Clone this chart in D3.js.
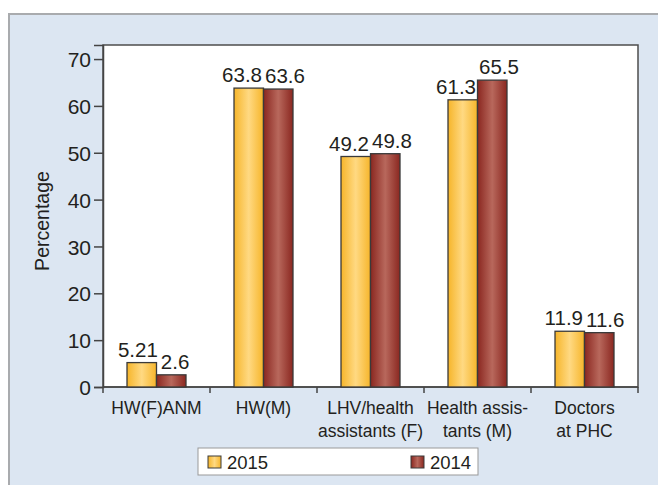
<!DOCTYPE html>
<html>
<head>
<meta charset="utf-8">
<script src="https://cdn.jsdelivr.net/npm/d3@7"></script>
<style>
  body { margin: 0; background: #fff; }
  svg { display: block; font-family: 'Liberation Sans', Arial, sans-serif; }
</style>
</head>
<body>
<svg id="chart" width="658" height="485"></svg>
<script>
const categories = [['HW(F)ANM'], ['HW(M)'], ['LHV/health', 'assistants (F)'], ['Health assis-', 'tants (M)'], ['Doctors', 'at PHC']];
const series = ['2015', '2014'];
const values2015 = [5.21, 63.8, 49.2, 61.3, 11.9];
const values2014 = [2.6, 63.6, 49.8, 65.5, 11.6];
const yTicks = [0, 10, 20, 30, 40, 50, 60, 70];

const svg = d3.select('#chart');
const margin = { top: 45, right: 20, bottom: 98, left: 103 };
const width = 658 - margin.left - margin.right;
const height = 485 - margin.top - margin.bottom;
const ink = '#231f20';

// gradients for the bars
const defs = svg.append('defs');
const grads = [
  { id: 'g2015', edge: '#f6b52a', mid: '#ffd982' },
  { id: 'g2014', edge: '#8a2720', mid: '#b8685c' }
];
grads.forEach(g => {
  const lg = defs.append('linearGradient').attr('id', g.id).attr('x1', 0).attr('x2', 1).attr('y1', 0).attr('y2', 0);
  lg.append('stop').attr('offset', '0%').attr('stop-color', g.edge);
  lg.append('stop').attr('offset', '50%').attr('stop-color', g.mid);
  lg.append('stop').attr('offset', '100%').attr('stop-color', g.edge);
});

// panel background
svg.append('rect').attr('x', 9).attr('y', 14).attr('width', 660).attr('height', 480)
  .attr('fill', '#dce6f2').attr('stroke', '#a9abae').attr('stroke-width', 2);

const chart = svg.append('g').attr('transform', 'translate(' + margin.left + ',' + margin.top + ')');

const x0 = d3.scaleBand().domain(d3.range(categories.length)).range([0, width]);
const x1 = d3.scaleBand().domain(series).range([x0.bandwidth() / 2 - 29.5, x0.bandwidth() / 2 + 29.5]);
const y = d3.scaleLinear().domain([0, 73]).range([height, 0]);

chart.append('rect').attr('width', width).attr('height', height)
  .attr('fill', '#fff').attr('stroke', '#4d4d4d').attr('stroke-width', 1.5);

// y axis
const yAxis = chart.append('g').call(d3.axisLeft(y).tickValues(yTicks).tickSize(9).tickPadding(3));
yAxis.select('.domain').attr('stroke', '#444').attr('stroke-width', 1.5);
yAxis.selectAll('.tick line').attr('stroke', '#444').attr('stroke-width', 1.5);
yAxis.selectAll('.tick text').attr('font-size', 21).attr('fill', ink).attr('dy', '0.36em');

// x axis with ticks at category boundaries
const xAxis = chart.append('g').attr('transform', 'translate(0,' + height + ')');
xAxis.append('line').attr('x1', 0).attr('x2', width).attr('stroke', '#444').attr('stroke-width', 1.5);
xAxis.selectAll('.xt').data(d3.range(categories.length + 1)).enter().append('line')
  .attr('x1', d => d < categories.length ? x0(d) : width)
  .attr('x2', d => d < categories.length ? x0(d) : width)
  .attr('y1', 0).attr('y2', 6).attr('stroke', '#444').attr('stroke-width', 1.5);

const xl = xAxis.selectAll('.xl').data(categories).enter().append('text')
  .attr('x', (d, i) => x0(i) + x0.bandwidth() / 2)
  .attr('y', 27)
  .attr('text-anchor', 'middle').attr('font-size', 17.5).attr('fill', ink);
xl.selectAll('tspan').data(d => d).enter().append('tspan')
  .attr('x', function() { return this.parentNode.getAttribute('x'); })
  .attr('dy', (d, i) => i === 0 ? 0 : 22.5)
  .text(d => d);

// bars
const rows = categories.map((c, i) => [
  { key: '2015', value: values2015[i] },
  { key: '2014', value: values2014[i] }
]);
const grp = chart.selectAll('.grp').data(rows).enter().append('g')
  .attr('transform', (d, i) => 'translate(' + x0(i) + ',0)');
grp.selectAll('rect').data(d => d).enter().append('rect')
  .attr('x', d => x1(d.key)).attr('width', x1.bandwidth())
  .attr('y', d => y(d.value)).attr('height', d => height - y(d.value))
  .attr('fill', d => 'url(#g' + d.key + ')')
  .attr('stroke', '#3a3a3a').attr('stroke-width', 1.3);
grp.selectAll('text').data(d => d).enter().append('text')
  .attr('x', d => x1(d.key) + x1.bandwidth() / 2)
  .attr('y', d => y(d.value) - 6)
  .attr('text-anchor', 'middle').attr('font-size', 20.5).attr('fill', ink)
  .text(d => String(d.value));

// push value labels of a pair apart when they collide
grp.each(function() {
  const t = d3.select(this).selectAll('text').nodes();
  const a = t[0].getBBox(), b = t[1].getBBox();
  const gap = 3;
  const vOverlap = a.y < b.y + b.height && b.y < a.y + a.height;
  const hOverlap = a.x + a.width + gap - b.x;
  if (vOverlap && hOverlap > 0) {
    d3.select(t[0]).attr('x', +t[0].getAttribute('x') - hOverlap / 2);
    d3.select(t[1]).attr('x', +t[1].getAttribute('x') + hOverlap / 2);
  }
});

// y title
svg.append('text').attr('transform', 'translate(49,221) rotate(-90)')
  .attr('text-anchor', 'middle').attr('font-size', 19.5).attr('fill', ink).text('Percentage');

// legend
const lg = svg.append('g').attr('transform', 'translate(198,448)');
lg.append('rect').attr('width', 280).attr('height', 27).attr('fill', '#fff').attr('stroke', '#999').attr('stroke-width', 1);
const litems = [{ key: '2015', x: 10 }, { key: '2014', x: 213 }];
litems.forEach(it => {
  lg.append('rect').attr('x', it.x).attr('y', 8).attr('width', 13).attr('height', 12)
    .attr('fill', 'url(#g' + it.key + ')').attr('stroke', '#3a3a3a').attr('stroke-width', 1);
  lg.append('text').attr('x', it.x + 19).attr('y', 20.5).attr('font-size', 18.5).attr('fill', ink).text(it.key);
});
</script>
</body>
</html>
